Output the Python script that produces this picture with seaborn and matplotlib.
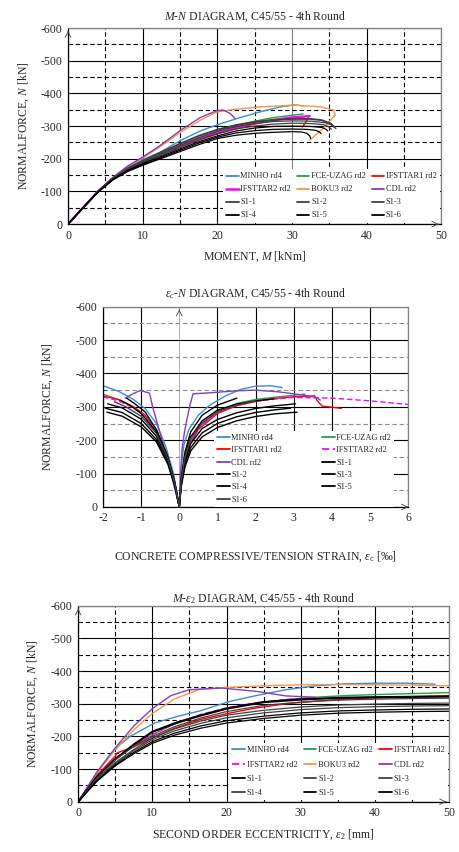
import matplotlib
matplotlib.use("Agg")
import matplotlib.pyplot as plt
import seaborn as sns

# ---------------- M-N diagram ----------------
mn_minho_m = [0, 2, 4, 6, 8, 10, 12.3, 15, 17.7, 20, 22.6, 25.8, 28.5, 30.3, 31.6]
mn_minho_n = [0, -50, -100, -141, -174, -197, -220, -255, -285, -304, -323, -344, -359, -365, -362]
mn_fce_m = [0, 2, 4, 6, 8, 10, 12.5, 15, 17.5, 20, 22.5, 25, 27.5, 30, 31.5]
mn_fce_n = [0, -50, -100, -140, -171, -193, -217, -241, -264, -284, -301, -315, -326, -333, -337]
mn_ifsttar1_m = [0, 2, 4, 6, 8, 10, 12.5, 15, 17.5, 20, 22.5, 25, 27.5, 30, 32.3, 31.9, 31.4]
mn_ifsttar1_n = [0, -50, -100, -140, -170, -190, -212, -235, -257, -276, -292, -306, -317, -325, -330, -313, -297]
mn_ifsttar2_m = [0, 2, 4, 6, 8, 10, 12.5, 15, 17.5, 20, 22.5, 25, 27.5, 30, 32.4]
mn_ifsttar2_n = [0, -50, -100, -140, -170, -191, -214, -238, -260, -279, -295, -309, -319, -327, -331]
mn_boku3_m = [0, 2, 4, 6, 8, 10, 12.3, 15, 17.7, 19.9, 22.2, 25.8, 30.3, 33.8, 35.6, 35.8, 34.2, 32.4]
mn_boku3_n = [0, -50, -100, -142, -176, -202, -236, -280, -318, -343, -351, -359, -364, -359, -349, -334, -293, -257]
mn_cdl_m = [0, 2, 4, 6, 8, 10, 12.3, 15, 17.7, 19.9, 20.8, 21.7, 22.4]
mn_cdl_n = [0, -50, -100, -143, -178, -205, -240, -286, -326, -347, -349, -339, -323]
mn_s1_m = [0, 2, 4, 6, 8, 10, 12.5, 15, 17.5, 20, 22.5, 25, 27.5, 30]
mn_s1_1_n = [0, -50, -100, -140, -171, -193, -220, -246, -270, -289, -303, -313, -319, -322]
mn_s1_1_tail_m = [32.5, 34, 35.2, 35.6]
mn_s1_1_tail_n = [-322, -318, -308, -298]
mn_s1_2_n = [0, -50, -99, -139, -169, -190, -215, -240, -264, -284, -298, -308, -314, -316]
mn_s1_2_tail_m = [32.5, 34.5, 35.5, 35.9]
mn_s1_2_tail_n = [-315, -310, -302, -292]
mn_s1_3_n = [0, -50, -99, -138, -167, -187, -211, -235, -258, -277, -291, -300, -306, -309]
mn_s1_3_tail_m = [32.5, 34.3, 35.0, 35.3]
mn_s1_3_tail_n = [-308, -304, -297, -290]
mn_s1_4_n = [0, -50, -98, -137, -165, -185, -207, -230, -252, -270, -285, -294, -299, -300]
mn_s1_4_tail_m = [32.5, 34.0, 34.6, 34.8]
mn_s1_4_tail_n = [-299, -296, -290, -285]
mn_s1_5_n = [0, -50, -98, -136, -163, -182, -204, -226, -248, -266, -279, -286, -290, -291]
mn_s1_5_tail_m = [32.0, 33.2, 33.7, 33.9]
mn_s1_5_tail_n = [-290, -287, -282, -277]
mn_s1_6_n = [0, -50, -97, -135, -161, -180, -201, -222, -243, -262, -272, -278, -281, -283]
mn_s1_6_tail_m = [31.3, 32.0, 32.4, 32.5]
mn_s1_6_tail_n = [-282, -278, -270, -262]

# ---------------- eps_c-N diagram ----------------
ec_minho_e = [-2, -1.6, -1.2, -0.9, -0.6, -0.35, -0.15, 0, 0.05, 0.12, 0.25, 0.5, 0.8, 1.2, 1.6, 2.0, 2.4, 2.7]
ec_minho_n = [-363, -347, -322, -295, -250, -180, -100, 0, -120, -185, -232, -275, -305, -332, -352, -362, -363, -358]
ec_fce_e = [-2, -1.6, -1.2, -0.9, -0.6, -0.35, -0.15, 0, 0.05, 0.12, 0.25, 0.5, 1.0, 1.5, 2.0, 2.6, 3.3]
ec_fce_n = [-338, -322, -300, -274, -230, -165, -90, 0, -70, -130, -185, -238, -287, -310, -322, -330, -338]
ec_ifsttar1_e = [-2, -2, -1.98, -1.6, -1.2, -0.9, -0.6, -0.35, -0.15, 0, 0.05, 0.12, 0.25, 0.5, 1.0, 1.5,
                 2.0, 2.5, 3.0, 3.55, 3.62, 3.75, 4.0, 4.25]
ec_ifsttar1_n = [-300, -318, -332, -322, -300, -275, -230, -165, -90, 0, -65, -125, -180, -232, -280, -303,
                 -316, -325, -330, -333, -318, -302, -299, -295]
ec_ifsttar2_e = [-2, -1.6, -1.2, -0.9, -0.6, -0.35, -0.15, 0, 0.05, 0.12, 0.25, 0.5, 1.0, 1.5, 2.0, 3.0, 4.0, 5.0, 6.0]
ec_ifsttar2_n = [-330, -318, -297, -272, -228, -163, -88, 0, -68, -128, -185, -235, -283, -305, -318, -328, -326, -318, -307]
ec_cdl_e = [-1.42, -1.2, -1.02, -0.78, -0.7, -0.5, -0.3, -0.12, 0, 0.03, 0.07, 0.13, 0.2, 0.28, 0.36,
            0.8, 1.5, 2.0, 2.6, 3.2, 3.6, 3.7]
ec_cdl_n = [-326, -340, -349, -341, -300, -220, -140, -55, 0, -90, -170, -220, -262, -305, -339,
            -342, -348, -350, -345, -336, -328, -320]
ec_s1_1_e = [-1.88, -1.5, -1.0, -0.6, -0.3, -0.12, 0, 0.05, 0.15, 0.3, 0.6, 1.0, 1.5, 2.0, 2.5, 3.05]
ec_s1_1_n = [-309, -297, -263, -212, -140, -70, 0, -70, -140, -190, -235, -262, -282, -295, -303, -309]
ec_s1_2_e = [-1.94, -1.5, -1.0, -0.6, -0.3, -0.12, 0, 0.05, 0.15, 0.3, 0.6, 1.0, 1.5, 2.0, 2.5, 2.92]
ec_s1_2_n = [-296, -283, -250, -202, -133, -66, 0, -65, -130, -178, -222, -250, -270, -283, -291, -296]
ec_s1_3_e = [-1.9, -1.5, -1.0, -0.6, -0.3, -0.12, 0, 0.05, 0.15, 0.3, 0.6, 1.0, 1.5, 2.0, 2.5, 3.09]
ec_s1_3_n = [-284, -272, -240, -195, -128, -63, 0, -60, -120, -168, -210, -238, -258, -271, -279, -284]
ec_s1_4_e = [-1.38, -1.2, -0.9, -0.6, -0.3, -0.12, 0, 0.05, 0.15, 0.3, 0.6, 1.0, 1.5, 2.0, 2.48]
ec_s1_4_n = [-326, -312, -285, -232, -150, -75, 0, -80, -155, -210, -258, -290, -308, -318, -324]
ec_s1_5_e = [-1.55, -1.3, -1.0, -0.6, -0.3, -0.12, 0, 0.05, 0.15, 0.3, 0.6, 1.0, 1.51]
ec_s1_5_n = [-320, -305, -280, -225, -147, -73, 0, -85, -165, -225, -275, -305, -326]
ec_s1_6_e = [-1.7, -1.4, -1.0, -0.6, -0.3, -0.12, 0, 0.05, 0.15, 0.3, 0.6, 1.0, 1.5, 2.0]
ec_s1_6_n = [-315, -300, -272, -220, -145, -72, 0, -78, -150, -205, -252, -285, -305, -318]

# ---------------- M-eps2 diagram ----------------
e2_minho_e = [0, 2, 4, 5.5, 7, 10.3, 13.5, 16.4, 20.4, 24, 28, 32, 36, 40, 44, 48.1]
e2_minho_n = [0, -70, -135, -172, -200, -241, -262, -278, -307, -325, -343, -355, -361, -363, -363, -360]
e2_fce_e = [0, 2.5, 5, 7.5, 10, 13, 16.5, 20.3, 24, 28, 32, 36, 40, 45, 50]
e2_fce_n = [0, -72, -132, -170, -205, -238, -265, -287, -302, -313, -320, -325, -328, -331, -334]
e2_ifsttar1_e = [0, 2.5, 5, 5.3, 7.5, 10, 13, 16.5, 20.3, 24, 28, 32, 36, 40, 45, 50]
e2_ifsttar1_n = [0, -80, -140, -150, -168, -195, -225, -252, -271, -287, -300, -308, -314, -318, -322, -325]
e2_ifsttar2_e = [0, 2.5, 5, 7.5, 10, 13, 16.5, 20.3, 24, 28, 32]
e2_ifsttar2_n = [0, -72, -133, -172, -205, -240, -267, -289, -303, -313, -318]
e2_boku3_e = [0, 2.5, 5, 7.5, 10, 13, 16.5, 20, 25, 30, 35, 40, 45, 50]
e2_boku3_n = [0, -88, -160, -220, -270, -315, -345, -350, -355, -358, -359, -358, -357, -355]
e2_cdl_e = [0, 2.5, 5, 7.5, 10, 12.5, 15, 19.4, 24, 28, 32]
e2_cdl_n = [0, -90, -165, -232, -285, -325, -343, -348, -338, -324, -320]
e2_s1_e = [0, 2.5, 5, 7.5, 10, 13, 16.5, 20, 25, 30, 35, 40, 45, 50]
e2_s1_1_n = [0, -75, -130, -175, -214, -240, -264, -285, -305, -313, -318, -320, -321, -322]
e2_s1_2_n = [0, -72, -128, -170, -200, -230, -256, -276, -295, -305, -311, -314, -316, -317]
e2_s1_3_n = [0, -68, -120, -160, -195, -223, -247, -265, -280, -290, -296, -299, -301, -302]
e2_s1_4_n = [0, -66, -117, -156, -190, -217, -240, -257, -272, -282, -288, -291, -293, -294]
e2_s1_5_n = [0, -64, -113, -151, -184, -210, -232, -248, -262, -272, -278, -281, -283, -284]
e2_s1_6_n = [0, -62, -110, -147, -179, -204, -225, -241, -255, -265, -271, -274, -276, -277]

C_MINHO = "#3d8fcb"
C_FCE = "#22a34a"
C_IFS1 = "#ff0000"
C_IFS2 = "#ff00ff"
C_BOKU = "#f79646"
C_CDL = "#8040c0"
C_S1A = "#404040"
C_S1B = "#000000"

sns.set_style("white")
plt.rcParams["font.family"] = ["Liberation Serif", "DejaVu Serif"]
plt.rcParams["mathtext.fontset"] = "custom"
plt.rcParams["mathtext.rm"] = "Liberation Serif"
plt.rcParams["mathtext.it"] = "Liberation Serif:italic"
plt.rcParams["mathtext.bf"] = "Liberation Serif:bold"
plt.rcParams["axes.unicode_minus"] = False

FS = 8.5


def draw(ax, x, y, label, color, lw=1.0, ls="-"):
    sns.lineplot(x=x, y=y, sort=False, estimator=None, color=color, lw=lw,
                 ax=ax, label=label, legend=False)
    line = ax.lines[-1]
    if ls == "--":
        line.set_dashes((4, 2))
    return line


def row_major(handles, ncol):
    n = len(handles)
    nrow = -(-n // ncol)
    out = []
    for c in range(ncol):
        for r in range(nrow):
            i = r * ncol + c
            if i < n:
                out.append(handles[i])
    return out


def style_axes(ax, xmin, xmax, xmaj, xmin_step, minor_color="black"):
    ax.set_xlim(xmin, xmax)
    ax.set_ylim(0, -600)
    ax.set_xticks([xmin + i * xmaj for i in range(int(round((xmax - xmin) / xmaj)) + 1)])
    ax.set_yticks([0, -100, -200, -300, -400, -500, -600])
    ax.set_yticks([-50, -150, -250, -350, -450, -550], minor=True)
    if xmin_step:
        ax.set_xticks([xmin + xmin_step + i * xmaj for i in range(int(round((xmax - xmin) / xmaj)))], minor=True)
    ax.set_axisbelow(True)
    ax.grid(which="major", color="black", lw=0.8, ls="-")
    ax.grid(which="minor", color=minor_color, lw=0.8, ls=(0, (4, 2.5)))
    ax.tick_params(which="both", direction="in", length=2.5, width=0.6, labelsize=FS, pad=4,
                   bottom=True, left=True)
    for s in ax.spines.values():
        s.set_color("#808080")
        s.set_linewidth(0.9)
    ax.spines["left"].set_color("black")
    ax.spines["bottom"].set_color("black")


def add_legend(ax, handles, ncol, thick=(), **kw):
    leg = ax.legend(handles=row_major(handles, ncol), ncol=ncol, loc="lower right",
                    fontsize=6, frameon=True, fancybox=False, framealpha=1,
                    facecolor="white", edgecolor="none", handlelength=1.5,
                    handletextpad=0.2, borderpad=0.4, **kw)
    leg.set_zorder(10)
    for ln, txt in zip(leg.get_lines(), leg.get_texts()):
        ln.set_linewidth(1.8 if txt.get_text() in thick else 1.3)
    return leg


fig = plt.figure(figsize=(4.6, 8.52), dpi=100)

# ---- panel 1 ----
ax1 = fig.add_axes([0.148, 0.737, 0.811, 0.230])
style_axes(ax1, 0, 50, 10, 5)
h = []
h.append(draw(ax1, mn_minho_m, mn_minho_n, "MINHO rd4", C_MINHO))
h.append(draw(ax1, mn_fce_m, mn_fce_n, "FCE-UZAG rd2", C_FCE))
h.append(draw(ax1, mn_ifsttar1_m, mn_ifsttar1_n, "IFSTTAR1 rd2", C_IFS1))
h.append(draw(ax1, mn_ifsttar2_m, mn_ifsttar2_n, "IFSTTAR2 rd2", C_IFS2, lw=1.5))
h.append(draw(ax1, mn_boku3_m, mn_boku3_n, "BOKU3 rd2", C_BOKU))
h.append(draw(ax1, mn_cdl_m, mn_cdl_n, "CDL rd2", C_CDL))
s1 = [(mn_s1_1_n, mn_s1_1_tail_m, mn_s1_1_tail_n, C_S1A, 1.4),
      (mn_s1_2_n, mn_s1_2_tail_m, mn_s1_2_tail_n, C_S1A, 0.9),
      (mn_s1_3_n, mn_s1_3_tail_m, mn_s1_3_tail_n, C_S1A, 0.9),
      (mn_s1_4_n, mn_s1_4_tail_m, mn_s1_4_tail_n, C_S1B, 0.9),
      (mn_s1_5_n, mn_s1_5_tail_m, mn_s1_5_tail_n, C_S1B, 0.9),
      (mn_s1_6_n, mn_s1_6_tail_m, mn_s1_6_tail_n, C_S1B, 0.9)]
for k, (n, tm, tn, c, lw) in enumerate(s1):
    h.append(draw(ax1, mn_s1_m + tm, n + tn, f"S1-{k + 1}", c, lw=lw))
ax1.xaxis.get_major_ticks()[3].gridline.set_color("#808080")
add_legend(ax1, h, 3, thick=("IFSTTAR2 rd2",), columnspacing=0.7, labelspacing=0.6, borderaxespad=0.15)
ax1.set_title(r"$M$-$N$ DIAGRAM, C45/55 - 4th Round", fontsize=FS, pad=6)
ax1.set_xlabel(r"MOMENT, $M$ [kNm]", fontsize=FS, labelpad=6)
ax1.set_ylabel(r"NORMALFORCE, $N$ [kN]", fontsize=FS, labelpad=7)

# ---- panel 2 ----
ax2 = fig.add_axes([0.224, 0.405, 0.663, 0.235])
style_axes(ax2, -2, 6, 1, None, minor_color="#8c8c8c")
ax2.xaxis.get_major_ticks()[2].gridline.set_color("#a0a0a0")
ax2.xaxis.get_major_ticks()[2].gridline.set_linewidth(0.6)
h = []
h.append(draw(ax2, ec_minho_e, ec_minho_n, "MINHO rd4", C_MINHO))
h.append(draw(ax2, ec_fce_e, ec_fce_n, "FCE-UZAG rd2", C_FCE))
h.append(draw(ax2, ec_ifsttar1_e, ec_ifsttar1_n, "IFSTTAR1 rd2", C_IFS1))
h.append(draw(ax2, ec_ifsttar2_e, ec_ifsttar2_n, "IFSTTAR2 rd2", C_IFS2, ls="--"))
h.append(draw(ax2, ec_cdl_e, ec_cdl_n, "CDL rd2", C_CDL))
ec_s1 = [(ec_s1_1_e, ec_s1_1_n, C_S1B), (ec_s1_2_e, ec_s1_2_n, C_S1B), (ec_s1_3_e, ec_s1_3_n, C_S1B),
         (ec_s1_4_e, ec_s1_4_n, C_S1B), (ec_s1_5_e, ec_s1_5_n, C_S1B), (ec_s1_6_e, ec_s1_6_n, C_S1A)]
for k, (e, n, c) in enumerate(ec_s1):
    h.append(draw(ax2, e, n, f"S1-{k + 1}", c, lw=1.0))
add_legend(ax2, h, 2, columnspacing=4.8, labelspacing=0.52,
           bbox_to_anchor=(0.955, 0.0), borderaxespad=0.0)
ax2.set_title(r"$\varepsilon_c$-$N$ DIAGRAM, C45/55 - 4th Round", fontsize=FS, pad=7)
ax2.set_xlabel(r"CONCRETE COMPRESSIVE/TENSION STRAIN, $\varepsilon_{\rm c}$ [‰]", fontsize=FS, labelpad=18)
ax2.set_ylabel(r"NORMALFORCE, $N$ [kN]", fontsize=FS, labelpad=15)

# ---- panel 3 ----
ax3 = fig.add_axes([0.170, 0.059, 0.806, 0.230])
style_axes(ax3, 0, 50, 10, 5)
h = []
h.append(draw(ax3, e2_minho_e, e2_minho_n, "MINHO rd4", C_MINHO))
h.append(draw(ax3, e2_fce_e, e2_fce_n, "FCE-UZAG rd2", C_FCE))
h.append(draw(ax3, e2_ifsttar1_e, e2_ifsttar1_n, "IFSTTAR1 rd2", C_IFS1))
h.append(draw(ax3, e2_ifsttar2_e, e2_ifsttar2_n, "IFSTTAR2 rd2", C_IFS2, ls="--"))
h.append(draw(ax3, e2_boku3_e, e2_boku3_n, "BOKU3 rd2", C_BOKU))
h.append(draw(ax3, e2_cdl_e, e2_cdl_n, "CDL rd2", C_CDL))
e2_s1 = [(e2_s1_1_n, C_S1B, 1.6), (e2_s1_2_n, C_S1A, 0.9), (e2_s1_3_n, C_S1A, 0.9),
         (e2_s1_4_n, C_S1A, 0.9), (e2_s1_5_n, C_S1B, 0.9), (e2_s1_6_n, C_S1B, 0.9)]
for k, (n, c, lw) in enumerate(e2_s1):
    h.append(draw(ax3, e2_s1_e, n, f"S1-{k + 1}", c, lw=lw))
add_legend(ax3, h, 3, columnspacing=0.8, labelspacing=0.75, borderaxespad=0.15)
ax3.set_title(r"$M$-$\varepsilon_2$ DIAGRAM, C45/55 - 4th Round", fontsize=FS, pad=3)
ax3.set_xlabel(r"SECOND ORDER ECCENTRICITY, $\varepsilon_2$ [mm]", fontsize=FS, labelpad=6)
ax3.set_ylabel(r"NORMALFORCE, $N$ [kN]", fontsize=FS, labelpad=8)

# axis arrows
for ax in (ax1, ax2, ax3):
    ax.annotate("", xy=(0, 1.0), xytext=(0, 0.97), xycoords=("data", "axes fraction"),
                arrowprops=dict(arrowstyle="->", lw=0.6, color="#404040"), zorder=11)
    ax.annotate("", xy=(1.0, 0), xytext=(0.985, 0), xycoords="axes fraction",
                arrowprops=dict(arrowstyle="->", lw=0.6, color="#404040"), zorder=11)

fig.savefig("out.png", dpi=100)
